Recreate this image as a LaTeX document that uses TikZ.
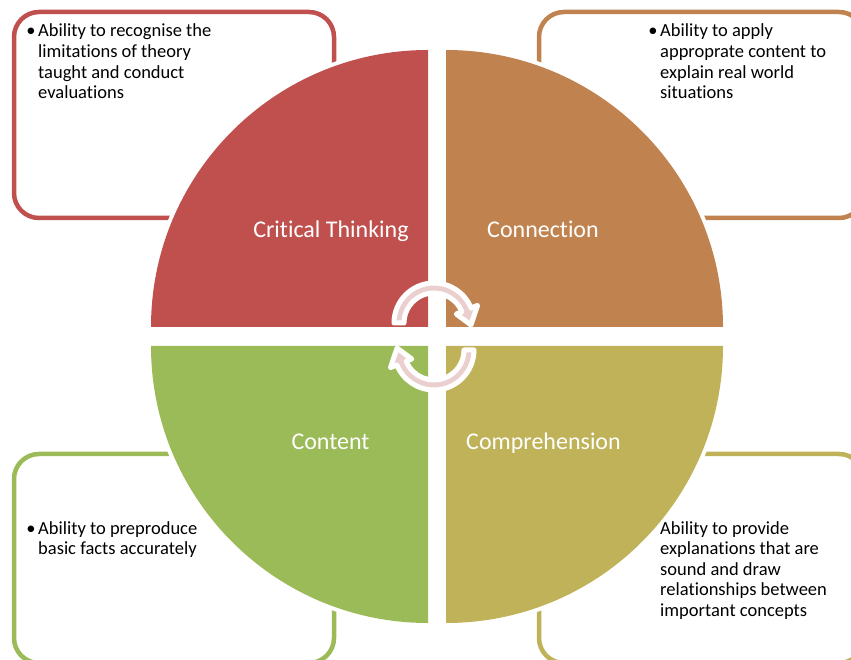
\documentclass[tikz,border=0pt]{standalone}
\usepackage{fontspec}
\setmainfont{Carlito}[Ligatures=NoCommon]
\usetikzlibrary{calc}
\definecolor{qred}{RGB}{192,80,77}
\definecolor{qorange}{RGB}{192,131,80}
\definecolor{qgreen}{RGB}{155,187,89}
\definecolor{qolive}{RGB}{191,178,89}
\definecolor{arrowpink}{RGB}{235,207,207}
\begin{document}
\begin{tikzpicture}[x=1pt,y=1pt,
  infobox/.style={draw=#1, line width=4.5pt, rounded corners=25pt, fill=white},
  quadrant/.style={fill=#1, preaction={draw=white, line width=8pt}},
  body/.style={inner sep=0pt, anchor=base west, font=\fontsize{18.5}{20.6}\selectfont, text=black},
  bulletmark/.style={inner sep=0pt, anchor=base, font=\fontsize{18.5}{20.6}\selectfont, text=black},
  qlabel/.style={inner sep=0pt, anchor=base, text=white, font=\fontsize{24}{28}\selectfont},
  cyclearrow/.style={fill=arrowpink, draw=white, line width=5pt, line join=round}]
\useasboundingbox (0,0) rectangle (851,659);
\clip (0,0) rectangle (851,659);

% outer boxes
\path[infobox=qred] (14,441) rectangle (334,647);
\path[infobox=qorange] (539,441) rectangle (864,647);
\path[infobox=qgreen] (14,-4) rectangle (334,205);
\path[infobox=qolive] (539,-4) rectangle (864,205);

% quadrants
\path[quadrant=qred] (428,332) -- (151,332) arc[start angle=180,end angle=90,radius=277pt] -- cycle;
\path[quadrant=qorange] (446,332) -- (446,609) arc[start angle=90,end angle=0,radius=277pt] -- cycle;
\path[quadrant=qgreen] (428,313) -- (151,313) arc[start angle=180,end angle=270,radius=277pt] -- cycle;
\path[quadrant=qolive] (446,313) -- (723,313) arc[start angle=0,end angle=-90,radius=277pt] -- cycle;

% quadrant labels
\node[qlabel] (lct) at (331,421) {Critical Thinking};
\node[qlabel] (lcn) at (543,421) {Connection};
\node[qlabel] (lco) at (330.5,209) {Content};
\node[qlabel] (lcp) at (543.5,209) {Comprehension};

% cycle arrows
\coordinate (ctop) at (434,336);
\coordinate (cbot) at (434,309);
\path[cyclearrow] ($(ctop)+(180:40pt)$) arc[start angle=180,end angle=22,radius=40pt]
  -- ($(ctop)+(22:47pt)$) -- ($(ctop)+(-3:37pt)$) -- ($(ctop)+(22:24pt)$)
  -- ($(ctop)+(22:30pt)$) arc[start angle=22,end angle=180,radius=30pt] -- cycle;
\path[cyclearrow] ($(cbot)+(0:40pt)$) arc[start angle=0,end angle=-158,radius=40pt]
  -- ($(cbot)+(-158:47pt)$) -- ($(cbot)+(177:37pt)$) -- ($(cbot)+(-158:24pt)$)
  -- ($(cbot)+(-158:30pt)$) arc[start angle=-158,end angle=0,radius=30pt] -- cycle;

% box texts
\node[bulletmark] (b1) at (31,622) {•};
\node[body] (t1) at (38,622) {\begin{tabular}[t]{@{}l@{}}Ability to recognise the\\limitations of theory\\taught and conduct\\evaluations\end{tabular}};
\node[bulletmark] (b2) at (653,622) {•};
\node[body] (t2) at (660,622) {\begin{tabular}[t]{@{}l@{}}Ability to apply\\approprate content to\\explain real world\\situations\end{tabular}};
\node[bulletmark] (b3) at (31,125) {•};
\node[body] (t3) at (38,125) {\begin{tabular}[t]{@{}l@{}}Ability to preproduce\\basic facts accurately\end{tabular}};
\node[body] (t4) at (660,125) {\begin{tabular}[t]{@{}l@{}}Ability to provide\\explanations that are\\sound and draw\\relationships between\\important concepts\end{tabular}};
\end{tikzpicture}
\end{document}
